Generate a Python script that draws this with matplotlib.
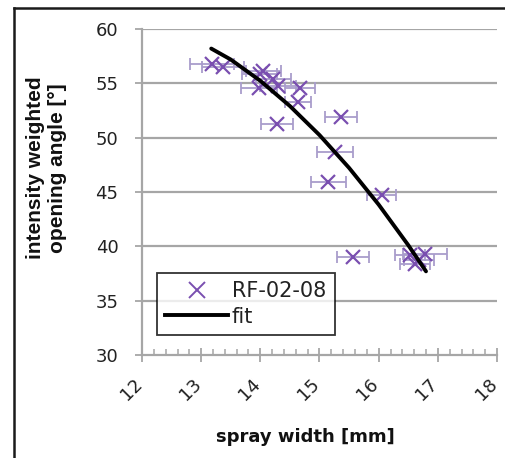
import matplotlib
matplotlib.use("Agg")
import matplotlib.pyplot as plt
from matplotlib.lines import Line2D
from matplotlib.ticker import MultipleLocator
from matplotlib.transforms import ScaledTranslation

plt.rcParams['font.family'] = ['DejaVu Sans']

# measured data (spray width [mm], opening angle [deg], x error)
spray_width = [13.18, 13.37, 13.99, 14.05, 14.22, 14.30, 13.98, 14.67, 14.64, 14.28,
               15.37, 15.26, 15.15, 16.05, 15.57, 16.53, 16.78, 16.61, 16.68]
opening_angle = [56.8, 56.5, 55.9, 56.1, 55.4, 54.8, 54.6, 54.6, 53.3, 51.3,
                 51.9, 48.7, 45.9, 44.7, 39.0, 39.2, 39.3, 38.4, 38.7]
width_err = [0.37, 0.35, 0.30, 0.30, 0.30, 0.30, 0.30, 0.25, 0.22, 0.27,
             0.27, 0.30, 0.30, 0.25, 0.27, 0.25, 0.37, 0.25, 0.25]

# fit curve
fit_x = [13.17, 13.5, 14.0, 14.5, 15.0, 15.5, 16.0, 16.5, 16.8]
fit_y = [58.2, 57.19, 55.23, 52.91, 50.24, 47.22, 43.84, 40.11, 37.7]

series_label = "RF-02-08"
fit_label = "fit"
xticks = [12, 13, 14, 15, 16, 17, 18]
yticks = [30, 35, 40, 45, 50, 55, 60]

W, H = 506, 458
fig = plt.figure(figsize=(W / 100, H / 100), dpi=100)
ax = fig.add_axes([142 / W, 1 - 355 / H, (497 - 142) / W, (355 - 29) / H])

grid_c = '#a6a6a6'
purple = '#7a4fb0'
err_c = '#a99dcc'
text_c = '#222222'

ax.set_xlim(12, 18)
ax.set_ylim(30, 60)
ax.set_yticks(yticks)
ax.set_xticks(xticks)
ax.xaxis.set_minor_locator(MultipleLocator(0.2))
for y in yticks[1:]:
    ax.axhline(y, color=grid_c, lw=1.6, zorder=0)

for s in ['top', 'right']:
    ax.spines[s].set_visible(False)
for s in ['left', 'bottom']:
    ax.spines[s].set_color(grid_c)
    ax.spines[s].set_linewidth(1.6)

ax.tick_params(axis='y', which='major', direction='out', length=5, width=1.3,
               color=grid_c, labelsize=13, pad=12, labelcolor=text_c)
ax.tick_params(axis='x', which='major', direction='inout', length=10, width=1.3,
               color=grid_c, labelsize=13, pad=2, labelcolor=text_c)
ax.tick_params(axis='x', which='minor', direction='in', length=4, width=1.1,
               color=grid_c)
ax.set_xticklabels([str(t) for t in xticks], rotation=45, ha='right',
                   va='center', rotation_mode='anchor')
offset = ScaledTranslation(-2 / 72, -4 / 72, fig.dpi_scale_trans)
for lbl in ax.get_xticklabels():
    lbl.set_y(-0.035)
    lbl.set_transform(lbl.get_transform() + offset)

ax.errorbar(spray_width, opening_angle, xerr=width_err, fmt='none',
            ecolor=err_c, elinewidth=1.3, capsize=4, capthick=1.3, zorder=2)
ax.plot(spray_width, opening_angle, ls='none', marker='x', ms=10, mew=1.6,
        color=purple, zorder=3)
ax.plot(fit_x, fit_y, color='black', lw=2.8, zorder=4, solid_capstyle='round')

handles = [Line2D([], [], ls='none', marker='x', ms=11, mew=1.4, color=purple),
           Line2D([], [], color='black', lw=2.8)]
leg = ax.legend(handles, [series_label, fit_label], loc='lower left',
                bbox_to_anchor=((157 - 142) / (497 - 142), (355 - 335) / (355 - 29)),
                fontsize=15, frameon=True, fancybox=False, edgecolor='black',
                handlelength=3.0, handletextpad=0.2, borderpad=0.4,
                labelspacing=0.25, borderaxespad=0)
leg.get_frame().set_linewidth(1.3)
for t in leg.get_texts():
    t.set_color(text_c)

fig.text(46.5 / W, 1 - 168 / H, "intensity weighted\nopening angle [°]",
         rotation=90, ha='center', va='center', fontsize=15, fontweight='bold',
         linespacing=1.25, color='#111111', family=['Liberation Sans'])
fig.text(305 / W, 1 - 437 / H, "spray width [mm]", ha='center', va='center',
         fontsize=13, fontweight='bold', color='#111111')

# figure frame (top and left edges)
fig.add_artist(Line2D([14 / W, 14 / W], [0, 1 - 8 / H], transform=fig.transFigure,
                      color='#1a1a1a', lw=1.8))
fig.add_artist(Line2D([14 / W, 1], [1 - 8 / H, 1 - 8 / H], transform=fig.transFigure,
                      color='#1a1a1a', lw=1.8))

fig.savefig('out.png', dpi=100)
